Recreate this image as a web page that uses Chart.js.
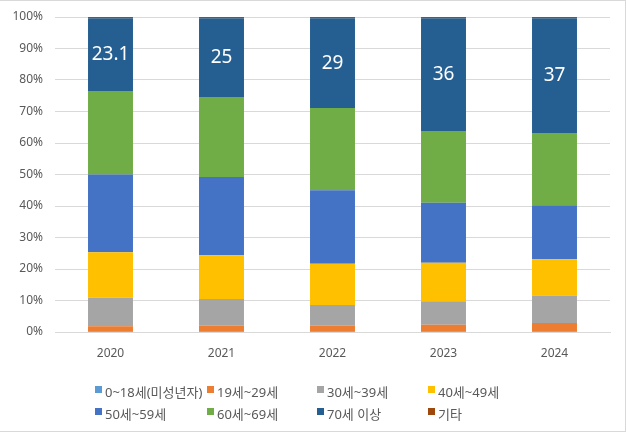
<!DOCTYPE html>
<html>
<head>
<meta charset="utf-8">
<script src="https://cdn.jsdelivr.net/npm/chart.js@4"></script>
<style>
  html, body { margin: 0; padding: 0; background: #fff; }
  #wrap {
    position: relative; width: 626px; height: 432px; box-sizing: border-box;
    border-top: 1px solid #d9d9d9; border-right: 1px solid #d9d9d9; border-bottom: 1px solid #d9d9d9;
    font-family: 'Noto Sans', 'Noto Sans CJK KR', sans-serif;
  }
  #chart { position: absolute; left: 0; top: 0; }
  .leg { position: absolute; font-size: 13px; color: #595959; white-space: nowrap; line-height: 16px; }
  .leg i { display: inline-block; width: 7px; height: 7px; margin-right: 3px; vertical-align: 4px; }
</style>
</head>
<body>
<div id="wrap">
  <canvas id="chart" width="626" height="432"></canvas>
  <div id="legend"></div>
</div>
<script>
const years = ['2020', '2021', '2022', '2023', '2024'];

const age0to18  = [0.1, 0.1, 0.1, 0.1, 0.1];
const age19to29 = [1.7, 1.9, 1.9, 2.2, 2.8];
const age30to39 = [9.1, 8.5, 6.7, 7.5, 8.9];
const age40to49 = [14.4, 13.9, 13.3, 12.3, 11.7];
const age50to59 = [24.7, 24.8, 23.8, 19.1, 17.4];
const age60to69 = [26.5, 25.4, 26.5, 22.9, 23.3];
const age70plus = [23.1, 25, 29, 36, 37];
const others    = [0.4, 0.4, 0.4, 0.4, 0.4];

const yTicks = [0, 10, 20, 30, 40, 50, 60, 70, 80, 90, 100];

const series = [
  { name: '0~18세(미성년자)', values: age0to18,  color: '#5B9BD5' },
  { name: '19세~29세',        values: age19to29, color: '#ED7D31' },
  { name: '30세~39세',        values: age30to39, color: '#A5A5A5' },
  { name: '40세~49세',        values: age40to49, color: '#FFC000' },
  { name: '50세~59세',        values: age50to59, color: '#4472C4' },
  { name: '60세~69세',        values: age60to69, color: '#70AD47' },
  { name: '70세 이상',        values: age70plus, color: '#255E91', label: true },
  { name: '기타',             values: others,    color: '#9E480E' }
];

// 100% stacked: each year's values divided by that year's total
const totals = years.map((_, i) => series.reduce((s, d) => s + d.values[i], 0));

const datasets = series.map(s => ({
  label: s.name,
  data: s.values.map((v, i) => v / totals[i] * 100),
  raw: s.values,
  showLabel: !!s.label,
  backgroundColor: s.color,
  borderWidth: 0,
  categoryPercentage: 1,
  barPercentage: 0.405
}));

const centerLabels = {
  id: 'centerLabels',
  afterDatasetsDraw(chart) {
    const ctx = chart.ctx;
    ctx.save();
    ctx.fillStyle = '#ffffff';
    ctx.font = "19px 'Noto Sans', sans-serif";
    ctx.textAlign = 'center';
    ctx.textBaseline = 'middle';
    chart.data.datasets.forEach((ds, di) => {
      if (!ds.showLabel) return;
      chart.getDatasetMeta(di).data.forEach((bar, i) => {
        const p = bar.getProps(['x', 'y', 'base'], true);
        ctx.fillText(String(ds.raw[i]), p.x, (p.y + p.base) / 2);
      });
    });
    ctx.restore();
  }
};

new Chart(document.getElementById('chart'), {
  type: 'bar',
  data: { labels: years, datasets: datasets },
  plugins: [centerLabels],
  options: {
    responsive: false,
    animation: false,
    layout: { padding: { left: 0, right: 16, top: 16, bottom: 71 } },
    plugins: { legend: { display: false }, tooltip: { enabled: false } },
    scales: {
      x: {
        stacked: true,
        grid: { display: false, drawTicks: false },
        border: { color: '#d9d9d9' },
        ticks: { color: '#595959', font: { size: 12, family: "'Noto Sans', sans-serif" }, padding: 14 },
        afterFit: s => { s.height = 30; }
      },
      y: {
        stacked: true,
        min: 0,
        max: 100,
        afterBuildTicks: s => { s.ticks = yTicks.map(v => ({ value: v })); },
        grid: { color: '#d9d9d9', drawTicks: false },
        border: { display: false },
        ticks: {
          color: '#595959',
          font: { size: 12, family: "'Noto Sans', sans-serif" },
          padding: 12,
          callback: v => v + '%'
        },
        afterFit: s => { s.width = 55; s.paddingTop = 0; s.paddingBottom = 0; }
      }
    }
  }
});

// legend laid out in a fixed 4-column grid like the original
const legendCols = [95, 207, 317, 428];
const legendRows = [391, 413];
const legendEl = document.getElementById('legend');
series.forEach((s, i) => {
  const d = document.createElement('div');
  d.className = 'leg';
  d.style.left = legendCols[i % 4] + 'px';
  d.style.top = (legendRows[Math.floor(i / 4)] - 8) + 'px';
  d.innerHTML = '<i style="background:' + s.color + '"></i>' + s.name;
  legendEl.appendChild(d);
});
</script>
</body>
</html>
